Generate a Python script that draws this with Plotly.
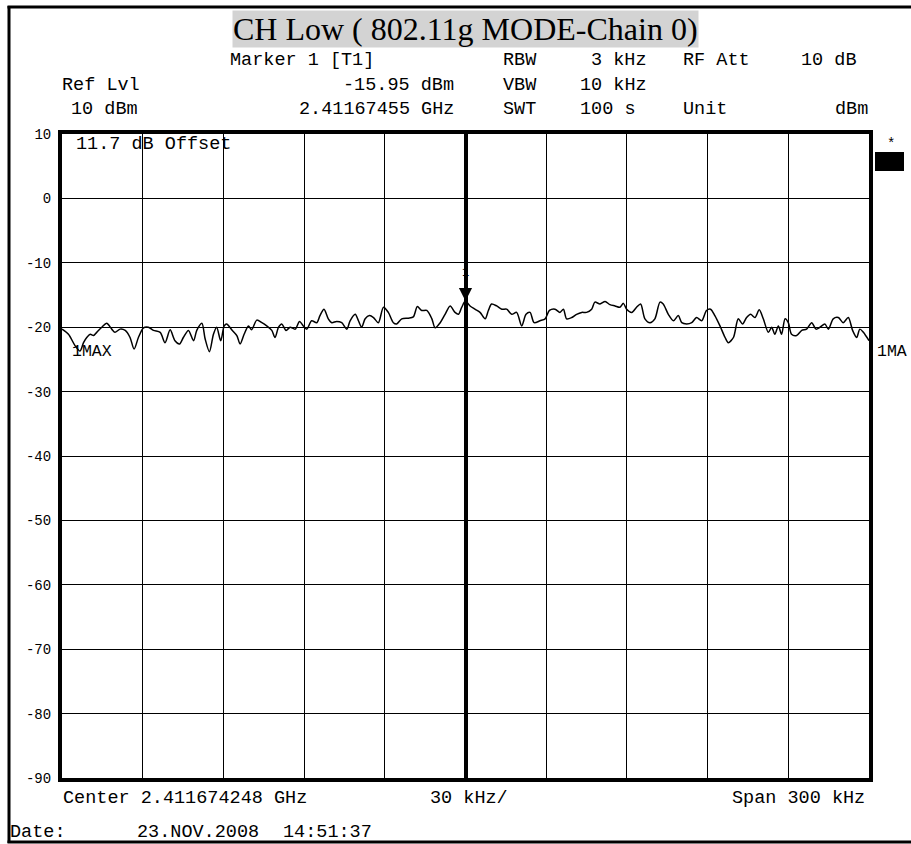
import plotly.graph_objects as go

# ---------------- data ----------------
freq_khz = [
    -150.0, -147.6, -145.1, -143.3, -142.0, -140.8, -139.5, -138.3, -137.1, -135.2,
    -133.4, -131.5, -130.3, -128.4, -126.5, -124.7, -123.2, -121.6, -119.7, -117.9,
    -116.0, -113.5, -111.7, -109.8, -108.0, -106.3, -104.9, -103.0, -101.1, -99.9,
    -98.0, -96.8, -95.2, -93.7, -92.5, -91.0, -89.7, -88.8, -86.9, -85.0,
    -83.8, -82.3, -80.7, -79.5, -77.6, -75.7, -73.9, -72.0, -70.8, -69.5,
    -68.3, -66.7, -65.2, -63.3, -61.7, -60.3, -59.0, -57.2, -55.3, -54.1,
    -52.6, -51.0, -49.7, -47.9, -46.0, -44.1, -42.9, -41.0, -39.8, -38.6,
    -37.3, -35.7, -34.2, -32.4, -30.5, -28.7, -26.8, -25.6, -23.7, -21.2,
    -19.4, -17.9, -16.3, -14.4, -12.5, -11.3, -9.4, -7.6, -5.7, -3.9,
    -2.6, -1.4, 0.0,
    1.7, 3.5, 5.4, 7.3, 8.5, 9.7, 11.6, 13.5, 15.3, 17.2,
    19.0, 20.9, 22.5, 24.0, 25.5, 27.7, 29.6, 31.2, 33.3, 35.1,
    36.4, 37.6, 39.5, 41.3, 43.2, 45.0, 46.9, 48.1, 50.0, 51.9,
    53.7, 55.6, 57.4, 58.7, 59.9, 61.8, 63.6, 65.1, 66.7, 68.6,
    70.4, 72.3, 73.5, 75.4, 77.3, 79.1, 80.4, 82.2, 84.1, 85.9,
    87.8, 89.6, 91.1, 92.7, 94.6, 96.5, 97.7, 99.6, 101.4, 103.0,
    104.5, 106.0, 107.6, 109.2, 110.7, 112.6, 113.8, 115.0, 116.3, 117.5,
    118.8, 120.0, 121.2, 123.1, 125.0, 126.8, 128.7, 130.3, 131.8, 133.6,
    134.9, 136.7, 138.6, 140.4, 142.3, 143.9, 145.4, 146.6, 147.9, 150.0,
]
level_dbm = [
    -20.3, -21.1, -22.9, -23.7, -22.4, -21.6, -21.1, -21.3, -20.8, -20.0,
    -19.4, -20.3, -20.8, -20.3, -20.5, -21.6, -23.4, -21.6, -20.1, -20.0,
    -20.5, -20.8, -22.4, -20.4, -22.1, -22.6, -21.6, -20.5, -22.1, -20.5,
    -19.4, -21.8, -23.8, -21.1, -20.0, -22.1, -19.8, -19.5, -20.4, -21.3,
    -22.6, -21.1, -19.8, -20.4, -18.9, -19.3, -19.8, -20.5, -21.6, -20.0,
    -19.5, -20.5, -20.0, -20.3, -19.1, -19.8, -20.3, -19.0, -19.3, -18.2,
    -17.2, -18.7, -19.3, -19.1, -19.3, -20.3, -19.0, -18.0, -19.0, -20.0,
    -18.7, -18.2, -18.5, -19.3, -16.9, -17.7, -19.3, -19.5, -18.7, -18.6,
    -18.4, -16.8, -17.4, -17.4, -18.7, -20.1, -19.3, -18.0, -16.7, -17.7,
    -18.0, -16.9, -15.95,
    -16.7, -17.2, -17.7, -18.7, -17.4, -16.4, -16.7, -17.2, -17.2, -18.0,
    -17.7, -19.8, -18.0, -17.7, -19.3, -19.0, -18.7, -17.4, -17.2, -17.7,
    -17.2, -18.7, -18.5, -18.0, -17.7, -17.7, -17.2, -16.1, -16.4, -16.0,
    -16.5, -16.7, -16.9, -16.3, -17.2, -17.7, -16.9, -16.4, -18.7, -19.3,
    -18.7, -16.1, -16.4, -18.0, -19.0, -18.2, -19.3, -19.5, -19.3, -18.5,
    -19.0, -17.4, -17.2, -18.2, -19.8, -21.6, -22.4, -21.6, -18.7, -19.5,
    -18.5, -18.0, -18.5, -17.3, -18.7, -20.8, -20.0, -21.1, -19.8, -21.1,
    -18.7, -19.3, -21.1, -21.3, -20.5, -20.3, -19.3, -20.3, -20.0, -19.5,
    -20.3, -18.7, -18.5, -19.3, -18.5, -20.5, -21.6, -20.3, -20.8, -22.1,
]
marker_freq_khz = 0.0
marker_level_dbm = -15.95
y_tick_vals = [10, 0, -10, -20, -30, -40, -50, -60, -70, -80, -90]
y_tick_labels = ["10", "0", "-10", "-20", "-30", "-40", "-50", "-60", "-70", "-80", "-90"]
x_range_khz = [-150, 150]
x_div_khz = 30

# ---------------- layout helpers ----------------
W, H = 911, 844
L, R, T, B = 62, 869, 134, 778
MONO = "Liberation Mono"
SERIF = "Liberation Serif"


def px(x):
    return (x - L) / (R - L)


def py(y):
    return (B - y) / (B - T)


annotations = []


def txt(text, x, y, anchor="left", size=18.5, font=MONO, **kw):
    annotations.append(dict(
        text=text, x=px(x), y=py(y), xref="paper", yref="paper",
        xanchor=anchor, yanchor="middle", showarrow=False,
        font=dict(family=font, size=size, color="black"), borderpad=0, **kw))


# title
txt("CH Low ( 802.11g MODE-Chain 0)", 465.5, 29, anchor="center", size=32,
    font=SERIF, bgcolor="#d3d3d3")
# header rows
txt("Marker 1 [T1]", 229, 60)
txt("RBW", 502, 60)
txt("3 kHz", 648, 60, anchor="right")
txt("RF Att", 682, 60)
txt("10 dB", 858, 60, anchor="right")
txt("Ref Lvl", 61, 85)
txt("-15.95 dBm", 455, 85, anchor="right")
txt("VBW", 502, 85)
txt("10 kHz", 648, 85, anchor="right")
txt("10 dBm", 70, 110)
txt("2.41167455 GHz", 455, 110, anchor="right")
txt("SWT", 502, 110)
txt("100 s", 579, 110)
txt("Unit", 682, 110)
txt("dBm", 869, 110, anchor="right")
# inside / side labels
txt("11.7 dB Offset", 75, 145)
txt("1MAX", 71, 351, size=16.5)
txt("1MA", 876, 351, size=16.5)
txt("*", 891, 144, anchor="center", size=14)
# footer
txt("Center 2.411674248 GHz", 62, 798)
txt("30 kHz/", 429, 798)
txt("Span 300 kHz", 866, 798, anchor="right")
txt("Date:", 9, 832)
txt("23.NOV.2008", 136, 832)
txt("14:51:37", 282, 832)

# marker 1
annotations.append(dict(
    x=marker_freq_khz, y=marker_level_dbm, xref="x", yref="y",
    text="1", showarrow=True, arrowhead=2, arrowsize=2.2, arrowwidth=1.2,
    arrowcolor="black", ax=0, ay=-20, font=dict(family=MONO, size=12, color="black"),
    yanchor="bottom", borderpad=0))

shapes = [
    # outer frame
    dict(type="line", xref="paper", yref="paper", x0=px(9), x1=px(9), y0=py(6), y1=py(843),
         line=dict(color="black", width=3)),
    dict(type="line", xref="paper", yref="paper", x0=px(7.5), x1=px(920), y0=py(7), y1=py(7),
         line=dict(color="black", width=3)),
    dict(type="line", xref="paper", yref="paper", x0=px(7.5), x1=px(920), y0=py(842), y1=py(842),
         line=dict(color="black", width=3)),
    # black block at right
    dict(type="rect", xref="paper", yref="paper", x0=px(875), x1=px(904), y0=py(171), y1=py(152),
         fillcolor="black", line=dict(width=0)),
]

fig = go.Figure()
fig.add_trace(go.Scatter(
    x=freq_khz, y=level_dbm, mode="lines",
    line=dict(color="black", width=1.5, shape="spline", smoothing=0.8),
    hoverinfo="skip", showlegend=False))

fig.update_layout(
    width=W, height=H, autosize=False,
    margin=dict(l=L, r=W - R, t=T, b=H - B, pad=0),
    paper_bgcolor="white", plot_bgcolor="white",
    showlegend=False,
    annotations=annotations, shapes=shapes,
    xaxis=dict(range=x_range_khz, dtick=x_div_khz, tick0=0, showticklabels=False,
               showgrid=True, gridcolor="black", gridwidth=1,
               zeroline=True, zerolinecolor="black", zerolinewidth=4,
               showline=True, linecolor="black", linewidth=4, mirror=True,
               ticks="", fixedrange=True),
    yaxis=dict(range=[-90, 10], tickvals=y_tick_vals, ticktext=y_tick_labels,
               showgrid=True, gridcolor="black", gridwidth=1,
               zeroline=False,
               showline=True, linecolor="black", linewidth=4, mirror=True,
               ticks="", ticklabelstandoff=4,
               tickfont=dict(family=MONO, size=14, color="black"), fixedrange=True),
)

fig.write_html(
    "out.html",
    config={"displayModeBar": False},
    post_script="document.body.style.margin='0px';document.body.style.overflow='hidden';",
)
